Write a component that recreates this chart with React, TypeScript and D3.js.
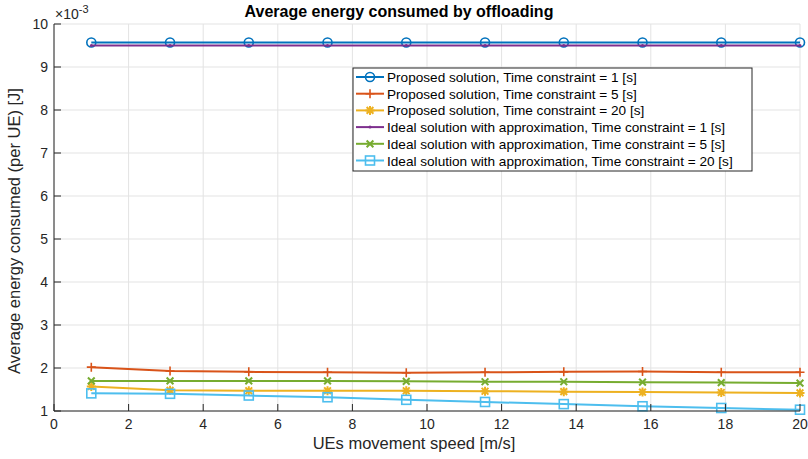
import React from "react";
import * as d3 from "d3";

const speeds = [1, 3.111, 5.222, 7.333, 9.444, 11.556, 13.667, 15.778, 17.889, 20];
const propTC1 = [9.57, 9.57, 9.57, 9.57, 9.57, 9.57, 9.57, 9.57, 9.57, 9.57];
const propTC5 = [2.02, 1.93, 1.91, 1.9, 1.89, 1.9, 1.91, 1.92, 1.9, 1.9];
const propTC20 = [1.57, 1.48, 1.47, 1.47, 1.47, 1.46, 1.45, 1.44, 1.43, 1.42];
const idealTC1 = [9.5, 9.5, 9.5, 9.5, 9.5, 9.5, 9.5, 9.5, 9.5, 9.5];
const idealTC5 = [1.7, 1.7, 1.7, 1.7, 1.69, 1.68, 1.68, 1.67, 1.66, 1.65];
const idealTC20 = [1.41, 1.4, 1.36, 1.32, 1.26, 1.21, 1.16, 1.11, 1.07, 1.03];
const seriesNames = [
  "Proposed solution, Time constraint = 1 [s]",
  "Proposed solution, Time constraint = 5 [s]",
  "Proposed solution, Time constraint = 20 [s]",
  "Ideal solution with approximation, Time constraint = 1 [s]",
  "Ideal solution with approximation, Time constraint = 5 [s]",
  "Ideal solution with approximation, Time constraint = 20 [s]",
];
const xTicks = [0, 2, 4, 6, 8, 10, 12, 14, 16, 18, 20];
const yTicks = [1, 2, 3, 4, 5, 6, 7, 8, 9, 10];

const colors = ["#0072BD", "#D95319", "#EDB120", "#7E2F8E", "#77AC30", "#4DBEEE"];
const markers = ["o", "+", "*", ".", "x", "s"];
const seriesData = [propTC1, propTC5, propTC20, idealTC1, idealTC5, idealTC20];

const FONT = "'Liberation Sans', Arial, Helvetica, sans-serif";

function Marker({ type, x, y, color }: { type: string; x: number; y: number; color: string }) {
  const r = 4.5;
  const sw = 1.6;
  if (type === "o") return <circle cx={x} cy={y} r={r} fill="none" stroke={color} strokeWidth={sw} />;
  if (type === "s") return <rect x={x - r} y={y - r} width={2 * r} height={2 * r} fill="none" stroke={color} strokeWidth={sw} />;
  if (type === "+")
    return <path d={`M${x - r},${y}H${x + r}M${x},${y - r}V${y + r}`} stroke={color} strokeWidth={sw} />;
  if (type === "x") {
    const a = r * 0.75;
    return <path d={`M${x - a},${y - a}L${x + a},${y + a}M${x - a},${y + a}L${x + a},${y - a}`} stroke={color} strokeWidth={sw + 0.4} />;
  }
  if (type === "*") {
    const a = r * 0.75;
    return (
      <path
        d={`M${x - r},${y}H${x + r}M${x},${y - r}V${y + r}M${x - a},${y - a}L${x + a},${y + a}M${x - a},${y + a}L${x + a},${y - a}`}
        stroke={color}
        strokeWidth={sw + 0.4}
      />
    );
  }
  if (type === ".") return <circle cx={x} cy={y} r={1.5} fill={color} />;
  return null;
}

export default function App() {
  const W = 808, H = 459;
  const left = 54, right = 800, top = 24, bottom = 411;
  const x = d3.scaleLinear().domain([0, 20]).range([left, right]);
  const y = d3.scaleLinear().domain([1, 10]).range([bottom, top]);
  const line = d3.line<number>().x((_, i) => x(speeds[i])).y((d) => y(d));
  const axisColor = "#262626";
  const legX = 353, legY = 68, legW = 399, legH = 103, rowH = 16.7;

  return (
    <svg width={W} height={H} style={{ position: "absolute", left: 0, top: 0, background: "#fff" }} fontFamily={FONT}>
      <rect width={W} height={H} fill="#fff" />
      {/* grid */}
      {xTicks.map((t) => (
        <line key={"gx" + t} x1={x(t)} x2={x(t)} y1={top} y2={bottom} stroke="#e3e3e3" strokeWidth={1} />
      ))}
      {yTicks.map((t) => (
        <line key={"gy" + t} x1={left} x2={right} y1={y(t)} y2={y(t)} stroke="#e3e3e3" strokeWidth={1} />
      ))}
      {/* series */}
      {seriesData.map((s, k) => (
        <g key={"s" + k}>
          <path d={line(s) || ""} fill="none" stroke={colors[k]} strokeWidth={k === 0 ? 2.2 : 2} />
          {s.map((v, i) => (
            <Marker key={i} type={markers[k]} x={x(speeds[i])} y={y(v)} color={colors[k]} />
          ))}
        </g>
      ))}
      {/* axes */}
      <line x1={left} x2={left} y1={top} y2={bottom} stroke={axisColor} strokeWidth={1} />
      <line x1={left} x2={right} y1={bottom} y2={bottom} stroke={axisColor} strokeWidth={1} />
      {xTicks.map((t) => (
        <g key={"xt" + t}>
          <line x1={x(t)} x2={x(t)} y1={bottom} y2={bottom - 7} stroke={axisColor} />
          <text x={x(t)} y={bottom + 18} textAnchor="middle" fontSize={14} fill={axisColor}>
            {t}
          </text>
        </g>
      ))}
      {yTicks.map((t) => (
        <g key={"yt" + t}>
          <line x1={left} x2={left + 7} y1={y(t)} y2={y(t)} stroke={axisColor} />
          <text x={left - 6} y={y(t) + 5} textAnchor="end" fontSize={14} fill={axisColor}>
            {t}
          </text>
        </g>
      ))}
      <text x={55} y={19} fontSize={14} fill={axisColor}>
        ×10
        <tspan dy={-6} fontSize={11}>-3</tspan>
      </text>
      <text x={399} y={17} textAnchor="middle" fontSize={16} fontWeight="bold" fill="#000">
        Average energy consumed by offloading
      </text>
      <text x={414} y={449} textAnchor="middle" fontSize={16.5} fill={axisColor}>
        UEs movement speed [m/s]
      </text>
      <text transform={`translate(20,231) rotate(-90)`} textAnchor="middle" fontSize={16.5} fill={axisColor}>
        Average energy consumed (per UE) [J]
      </text>
      {/* legend */}
      <rect x={legX} y={legY} width={legW} height={legH} fill="#fff" stroke="#262626" strokeWidth={1} />
      {seriesNames.map((n, k) => {
        const cy = legY + 9 + k * rowH;
        return (
          <g key={"l" + k}>
            <line x1={legX + 3} x2={legX + 31} y1={cy} y2={cy} stroke={colors[k]} strokeWidth={2} />
            <Marker type={markers[k]} x={legX + 17} y={cy} color={colors[k]} />
            <text x={legX + 34} y={cy + 5} fontSize={13.6} fill="#000">
              {n}
            </text>
          </g>
        );
      })}
    </svg>
  );
}
